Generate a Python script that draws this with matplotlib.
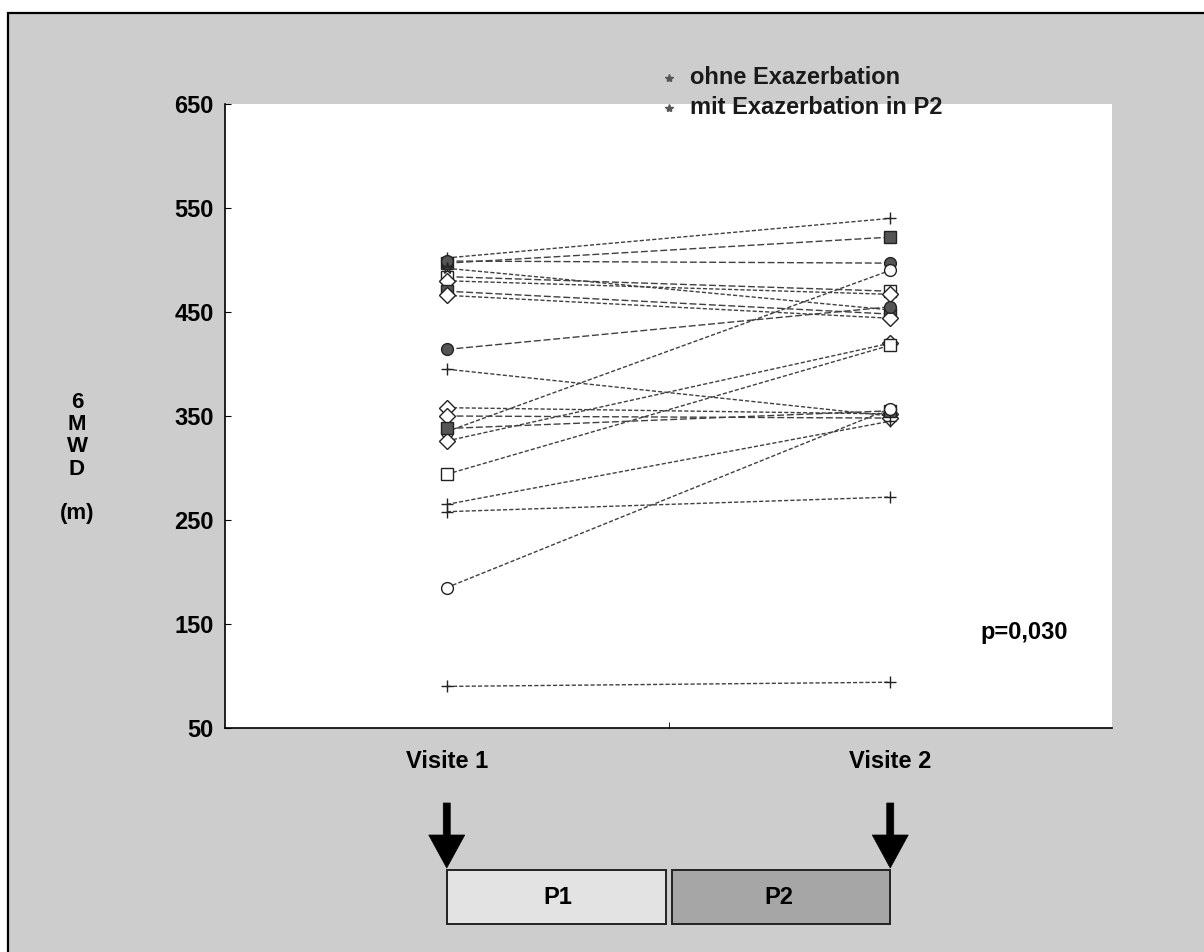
import matplotlib
matplotlib.use("Agg")
import matplotlib.pyplot as plt
from matplotlib.patches import Rectangle, Polygon
from matplotlib.lines import Line2D

plt.rcParams['font.family'] = ['Liberation Sans', 'DejaVu Sans']
plt.rcParams['font.weight'] = 'bold'

# --- data -------------------------------------------------------------
visits = ['Visite 1', 'Visite 2']
yticks = [50, 150, 250, 350, 450, 550, 650]

# 6-minute walking distance (m) per patient at the two visits
mwd_visite1 = [502, 497, 499, 335, 484, 480, 492, 470, 466, 414,
               326, 294, 395, 358, 350, 338, 265, 258, 185, 90]
mwd_visite2 = [540, 522, 497, 490, 470, 467, 452, 448, 444, 455,
               420, 418, 350, 352, 348, 355, 345, 272, 357, 94]
gruppe = ['ohne', 'mit', 'mit', 'ohne', 'mit', 'ohne', 'ohne', 'mit', 'ohne', 'mit',
          'ohne', 'ohne', 'ohne', 'ohne', 'mit', 'mit', 'ohne', 'ohne', 'ohne', 'ohne']

legend_labels = ['ohne Exazerbation', 'mit Exazerbation in P2']
p_text = 'p=0,030'
period_labels = ['P1', 'P2']

# --- styling per patient -----------------------------------------------
marker_style = ['+', 's', 'o', 'o', 's', 'D', '*', 's', 'D', 'o',
                'D', 's', '+', 'D', 'D', 's', '+', '+', 'o', '+']
marker_fill = ['none', '#555555', '#555555', 'white', 'white', 'white', 'none', '#555555', 'white', '#555555',
               'white', 'white', 'none', 'white', 'white', '#555555', 'none', 'none', 'white', 'none']
line_style = {'ohne': (0, (3, 1.5)), 'mit': (0, (5, 2))}

W, H = 1204, 952
fig = plt.figure(figsize=(W / 100, H / 100), dpi=100, facecolor='white')


def fx(px):
    return px / W


def fy(py):
    return 1 - py / H


# stippled grey panel behind everything
fig.add_artist(Rectangle((fx(8), -0.02), 1.0, fy(13) + 0.02, transform=fig.transFigure,
                         facecolor='#cdcdcd', edgecolor='black', lw=1.6, zorder=0))

ax = fig.add_axes([fx(225), fy(728), fx(1112) - fx(225), fy(104) - fy(728)])
ax.set_facecolor('white')
ax.set_zorder(1)

for a, b, m, fc, g in zip(mwd_visite1, mwd_visite2, marker_style, marker_fill, gruppe):
    ax.plot([0, 1], [a, b], color='#404040', lw=1.0, ls=line_style[g],
            marker=m, ms=8.5, mfc=fc, mec='#222222', mew=1.0)

ax.set_xlim(-0.5, 1.5)
ax.set_ylim(yticks[0], yticks[-1])
ax.set_yticks(yticks)
ax.set_xticks([0, 1])
ax.set_xticklabels(visits)
ax.set_xticks([0.5], minor=True)
ax.tick_params(axis='y', direction='in', length=4, pad=8, labelsize=17)
ax.tick_params(axis='x', which='major', length=0, pad=16, labelsize=17)
ax.tick_params(axis='x', which='minor', direction='in', length=4)
for s in ['top', 'right']:
    ax.spines[s].set_visible(False)
for s in ['left', 'bottom']:
    ax.spines[s].set_linewidth(1.2)

# y-axis caption, stacked letters
fig.text(fx(77), fy(458), '6\nM\nW\nD\n\n(m)', ha='center', va='center',
         fontsize=16, linespacing=1.08)

# legend
for i, lab in enumerate(legend_labels):
    yy = fy(78 + 30 * i)
    fig.add_artist(Line2D([fx(669)], [yy], marker='*', ms=6, color='#555555',
                          ls='none', transform=fig.transFigure, zorder=5))
    fig.text(fx(690), yy, lab, ha='left', va='center', fontsize=17,
             color='#1a1a1a', zorder=5)

fig.text(fx(980), fy(632), p_text, ha='left', va='center', fontsize=17, zorder=5)

# study periods with visit arrows
fig.canvas.draw()
x1_px = ax.transData.transform((0, 0))[0]
x2_px = ax.transData.transform((1, 0))[0]
xm_px = (x1_px + x2_px) / 2
box_top, box_bot = 870, 924
gap = 3
fig.add_artist(Rectangle((fx(x1_px), fy(box_bot)), fx(xm_px - gap) - fx(x1_px), fy(box_top) - fy(box_bot),
                         transform=fig.transFigure, facecolor='#e3e3e3', edgecolor='#222222', lw=1.4))
fig.add_artist(Rectangle((fx(xm_px + gap), fy(box_bot)), fx(x2_px) - fx(xm_px + gap), fy(box_top) - fy(box_bot),
                         transform=fig.transFigure, facecolor='#a6a6a6', edgecolor='#222222', lw=1.4))
fig.text(fx((x1_px + xm_px) / 2), fy(897), period_labels[0], ha='center', va='center', fontsize=17)
fig.text(fx((xm_px + x2_px) / 2), fy(897), period_labels[1], ha='center', va='center', fontsize=17)

for xc in (x1_px, x2_px):
    pts = [(xc - 3.5, 803), (xc + 3.5, 803), (xc + 3.5, 835), (xc + 18, 835),
           (xc, 868), (xc - 18, 835), (xc - 3.5, 835)]
    fig.add_artist(Polygon([(fx(px), fy(py)) for px, py in pts], closed=True,
                           transform=fig.transFigure, facecolor='black', edgecolor='black', lw=0.5))

fig.savefig('out.png', dpi=100)
